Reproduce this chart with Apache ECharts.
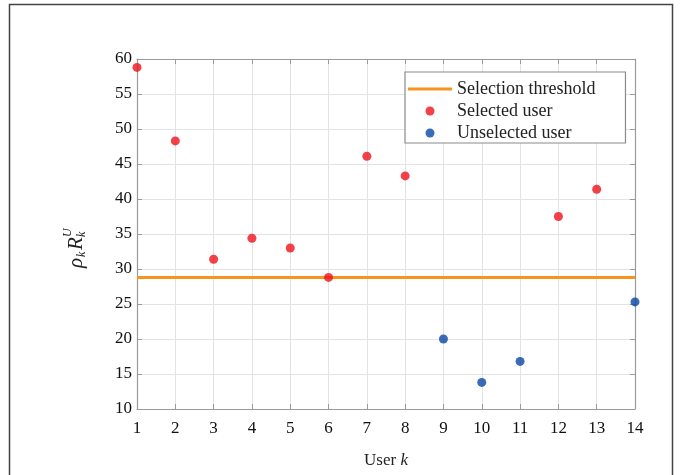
<!DOCTYPE html>
<html>
<head>
<meta charset="utf-8">
<script src="https://cdn.jsdelivr.net/npm/echarts@6/dist/echarts.min.js"></script>
<style>
  html, body { margin: 0; padding: 0; background: #fff; }
  #chart { width: 681px; height: 475px; }
</style>
</head>
<body>
<div id="chart"></div>
<script>
// User index k and the weighted rate rho_k * R_k^U of each user
const users = [1, 2, 3, 4, 5, 6, 7, 8, 9, 10, 11, 12, 13, 14];
const rates = [58.8, 48.3, 31.4, 34.4, 33.0, 28.8, 46.1, 43.3, 20.0, 13.8, 16.8, 37.5, 41.4, 25.3];
const threshold = 28.8;
const yTicks = [10, 15, 20, 25, 30, 35, 40, 45, 50, 55, 60];

const seriesNames = ['Selection threshold', 'Selected user', 'Unselected user'];

// Users at or above the threshold are selected
const selectedPts = [];
const unselectedPts = [];
users.forEach((u, i) => {
  (rates[i] >= threshold ? selectedPts : unselectedPts).push([u, rates[i]]);
});
const thresholdPts = [[users[0], threshold], [users[users.length - 1], threshold]];

const serif = '"Liberation Serif", "Times New Roman", serif';
const boxColor = '#9a9a9a';
const gridColor = '#e3e3e3';

const chart = echarts.init(document.getElementById('chart'), null, { renderer: 'canvas' });

const frameAxis = {
  axisLine: { show: true, lineStyle: { color: boxColor, width: 1.2 } },
  axisTick: { show: true, inside: true, length: 5, lineStyle: { color: boxColor } },
  axisLabel: { show: false },
  splitLine: { show: false }
};

chart.setOption({
  animation: false,
  backgroundColor: '#fff',
  grid: { left: 137, top: 59, right: 46, bottom: 66, containLabel: false },
  xAxis: [{
    type: 'value',
    min: users[0], max: users[users.length - 1], interval: 1,
    name: 'User {i|k}',
    nameLocation: 'middle',
    nameGap: 43,
    nameTextStyle: {
      fontFamily: serif, fontSize: 17, color: '#222',
      rich: { i: { fontFamily: serif, fontSize: 17, fontStyle: 'italic', color: '#222' } }
    },
    axisLine: { show: true, lineStyle: { color: boxColor, width: 1.2 } },
    axisTick: { show: true, inside: true, length: 5, lineStyle: { color: boxColor } },
    axisLabel: { fontFamily: serif, fontSize: 17, color: '#111', margin: 11 },
    splitLine: { show: true, lineStyle: { color: gridColor, width: 1 } }
  }, Object.assign({
    type: 'value', position: 'top',
    min: users[0], max: users[users.length - 1], interval: 1
  }, frameAxis)],
  yAxis: [{
    type: 'value',
    min: yTicks[0], max: yTicks[yTicks.length - 1], interval: 5,
    axisLine: { show: true, lineStyle: { color: boxColor, width: 1.2 } },
    axisTick: { show: true, inside: true, length: 5, lineStyle: { color: boxColor } },
    axisLabel: { fontFamily: serif, fontSize: 17, color: '#111', margin: 5 },
    splitLine: { show: true, lineStyle: { color: gridColor, width: 1 } }
  }, Object.assign({
    type: 'value', position: 'right',
    min: yTicks[0], max: yTicks[yTicks.length - 1], interval: 5
  }, frameAxis)],
  legend: {
    orient: 'vertical',
    left: 405, top: 72,
    padding: [8, 30, 1, 3],
    itemWidth: 44,
    itemHeight: 9,
    itemGap: 4,
    backgroundColor: '#fff',
    borderColor: '#8a8a8a',
    borderWidth: 1.2,
    textStyle: { fontFamily: serif, fontSize: 18, color: '#222', lineHeight: 16 },
    data: [
      { name: seriesNames[0], icon: 'path://M0,0H44V3H0Z' },
      { name: seriesNames[1], icon: 'circle' },
      { name: seriesNames[2], icon: 'circle' }
    ]
  },
  series: [{
    name: seriesNames[0],
    type: 'line',
    data: thresholdPts,
    symbol: 'none',
    lineStyle: { color: '#f7941d', width: 3 },
    itemStyle: { color: '#f7941d' },
    z: 3
  }, {
    name: seriesNames[1],
    type: 'scatter',
    data: selectedPts,
    symbol: 'circle',
    symbolSize: 9,
    itemStyle: { color: '#f0121c' },
    clip: false,
    z: 4
  }, {
    name: seriesNames[2],
    type: 'scatter',
    data: unselectedPts,
    symbol: 'circle',
    symbolSize: 9,
    itemStyle: { color: '#0846a6' },
    clip: false,
    z: 4
  }],
  graphic: [{
    // outer frame around the figure
    type: 'rect',
    shape: { x: 9.5, y: 4.5, width: 663, height: 490 },
    style: { fill: 'none', stroke: '#444', lineWidth: 1.5 },
    silent: true
  }, {
    // rotated y-axis title: rho_k R_k^U
    type: 'group',
    x: 76, y: 268,
    rotation: Math.PI / 2,
    children: [
      { type: 'text', x: 0, y: 0, style: { text: 'ρ', font: 'italic 21px ' + serif, fill: '#222', textVerticalAlign: 'middle' } },
      { type: 'text', x: 11, y: 6, style: { text: 'k', font: 'italic 12px ' + serif, fill: '#222', textVerticalAlign: 'middle' } },
      { type: 'text', x: 18, y: 0, style: { text: 'R', font: 'italic 21px ' + serif, fill: '#222', textVerticalAlign: 'middle' } },
      { type: 'text', x: 31, y: 6, style: { text: 'k', font: 'italic 12px ' + serif, fill: '#222', textVerticalAlign: 'middle' } },
      { type: 'text', x: 31, y: -8, style: { text: 'U', font: 'italic 12px ' + serif, fill: '#222', textVerticalAlign: 'middle' } }
    ]
  }]
});
</script>
</body>
</html>
